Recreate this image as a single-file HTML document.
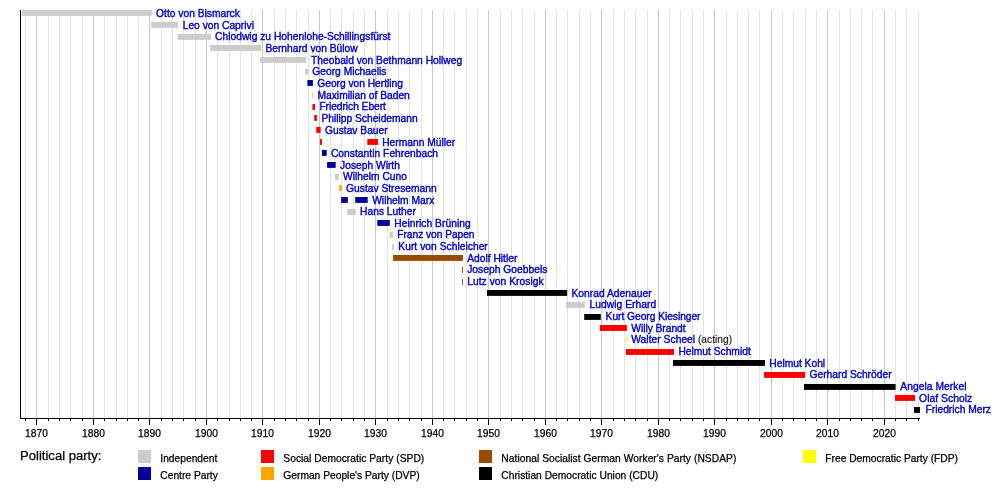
<!DOCTYPE html>
<html lang="en"><head><meta charset="utf-8"><title>Chancellors of Germany timeline</title>
<style>
html,body{margin:0;padding:0;background:#fff;}
body{width:1000px;height:488px;overflow:hidden;}
svg{display:block;}
text{font-family:"Liberation Sans",Arial,Helvetica,sans-serif;}
.l{font-size:10.25px;fill:#0000cc;stroke:#0000cc;stroke-width:0.38px;}
.k{font-size:10.25px;fill:#000;stroke:#000;stroke-width:0.25px;}
.t{font-size:13.05px;fill:#000;stroke:#000;stroke-width:0.25px;}
</style></head><body>
<svg width="1000" height="488" viewBox="0 0 1000 488">
<rect width="1000" height="488" fill="#fff"/>

<g shape-rendering="crispEdges">
<rect x="25" y="10" width="1" height="408" fill="#e3e3e3"/>
<rect x="36" y="10" width="1" height="408" fill="#c8c8c8"/>
<rect x="48" y="10" width="1" height="408" fill="#e3e3e3"/>
<rect x="59" y="10" width="1" height="408" fill="#e3e3e3"/>
<rect x="70" y="10" width="1" height="408" fill="#e3e3e3"/>
<rect x="82" y="10" width="1" height="408" fill="#e3e3e3"/>
<rect x="93" y="10" width="1" height="408" fill="#c8c8c8"/>
<rect x="104" y="10" width="1" height="408" fill="#e3e3e3"/>
<rect x="116" y="10" width="1" height="408" fill="#e3e3e3"/>
<rect x="127" y="10" width="1" height="408" fill="#e3e3e3"/>
<rect x="138" y="10" width="1" height="408" fill="#e3e3e3"/>
<rect x="149" y="10" width="1" height="408" fill="#c8c8c8"/>
<rect x="161" y="10" width="1" height="408" fill="#e3e3e3"/>
<rect x="172" y="10" width="1" height="408" fill="#e3e3e3"/>
<rect x="183" y="10" width="1" height="408" fill="#e3e3e3"/>
<rect x="195" y="10" width="1" height="408" fill="#e3e3e3"/>
<rect x="206" y="10" width="1" height="408" fill="#c8c8c8"/>
<rect x="217" y="10" width="1" height="408" fill="#e3e3e3"/>
<rect x="229" y="10" width="1" height="408" fill="#e3e3e3"/>
<rect x="240" y="10" width="1" height="408" fill="#e3e3e3"/>
<rect x="251" y="10" width="1" height="408" fill="#e3e3e3"/>
<rect x="262" y="10" width="1" height="408" fill="#c8c8c8"/>
<rect x="274" y="10" width="1" height="408" fill="#e3e3e3"/>
<rect x="285" y="10" width="1" height="408" fill="#e3e3e3"/>
<rect x="296" y="10" width="1" height="408" fill="#e3e3e3"/>
<rect x="308" y="10" width="1" height="408" fill="#e3e3e3"/>
<rect x="319" y="10" width="1" height="408" fill="#c8c8c8"/>
<rect x="330" y="10" width="1" height="408" fill="#e3e3e3"/>
<rect x="341" y="10" width="1" height="408" fill="#e3e3e3"/>
<rect x="353" y="10" width="1" height="408" fill="#e3e3e3"/>
<rect x="364" y="10" width="1" height="408" fill="#e3e3e3"/>
<rect x="375" y="10" width="1" height="408" fill="#c8c8c8"/>
<rect x="387" y="10" width="1" height="408" fill="#e3e3e3"/>
<rect x="398" y="10" width="1" height="408" fill="#e3e3e3"/>
<rect x="409" y="10" width="1" height="408" fill="#e3e3e3"/>
<rect x="421" y="10" width="1" height="408" fill="#e3e3e3"/>
<rect x="432" y="10" width="1" height="408" fill="#c8c8c8"/>
<rect x="443" y="10" width="1" height="408" fill="#e3e3e3"/>
<rect x="454" y="10" width="1" height="408" fill="#e3e3e3"/>
<rect x="466" y="10" width="1" height="408" fill="#e3e3e3"/>
<rect x="477" y="10" width="1" height="408" fill="#e3e3e3"/>
<rect x="488" y="10" width="1" height="408" fill="#c8c8c8"/>
<rect x="500" y="10" width="1" height="408" fill="#e3e3e3"/>
<rect x="511" y="10" width="1" height="408" fill="#e3e3e3"/>
<rect x="522" y="10" width="1" height="408" fill="#e3e3e3"/>
<rect x="534" y="10" width="1" height="408" fill="#e3e3e3"/>
<rect x="545" y="10" width="1" height="408" fill="#c8c8c8"/>
<rect x="556" y="10" width="1" height="408" fill="#e3e3e3"/>
<rect x="567" y="10" width="1" height="408" fill="#e3e3e3"/>
<rect x="579" y="10" width="1" height="408" fill="#e3e3e3"/>
<rect x="590" y="10" width="1" height="408" fill="#e3e3e3"/>
<rect x="601" y="10" width="1" height="408" fill="#c8c8c8"/>
<rect x="613" y="10" width="1" height="408" fill="#e3e3e3"/>
<rect x="624" y="10" width="1" height="408" fill="#e3e3e3"/>
<rect x="635" y="10" width="1" height="408" fill="#e3e3e3"/>
<rect x="647" y="10" width="1" height="408" fill="#e3e3e3"/>
<rect x="658" y="10" width="1" height="408" fill="#c8c8c8"/>
<rect x="669" y="10" width="1" height="408" fill="#e3e3e3"/>
<rect x="680" y="10" width="1" height="408" fill="#e3e3e3"/>
<rect x="692" y="10" width="1" height="408" fill="#e3e3e3"/>
<rect x="703" y="10" width="1" height="408" fill="#e3e3e3"/>
<rect x="714" y="10" width="1" height="408" fill="#c8c8c8"/>
<rect x="726" y="10" width="1" height="408" fill="#e3e3e3"/>
<rect x="737" y="10" width="1" height="408" fill="#e3e3e3"/>
<rect x="748" y="10" width="1" height="408" fill="#e3e3e3"/>
<rect x="759" y="10" width="1" height="408" fill="#e3e3e3"/>
<rect x="771" y="10" width="1" height="408" fill="#c8c8c8"/>
<rect x="782" y="10" width="1" height="408" fill="#e3e3e3"/>
<rect x="793" y="10" width="1" height="408" fill="#e3e3e3"/>
<rect x="805" y="10" width="1" height="408" fill="#e3e3e3"/>
<rect x="816" y="10" width="1" height="408" fill="#e3e3e3"/>
<rect x="827" y="10" width="1" height="408" fill="#c8c8c8"/>
<rect x="839" y="10" width="1" height="408" fill="#e3e3e3"/>
<rect x="850" y="10" width="1" height="408" fill="#e3e3e3"/>
<rect x="861" y="10" width="1" height="408" fill="#e3e3e3"/>
<rect x="872" y="10" width="1" height="408" fill="#e3e3e3"/>
<rect x="884" y="10" width="1" height="408" fill="#c8c8c8"/>
<rect x="895" y="10" width="1" height="408" fill="#e3e3e3"/>
<rect x="906" y="10" width="1" height="408" fill="#e3e3e3"/>
<rect x="918" y="10" width="1" height="408" fill="#e3e3e3"/>
</g>
<g>
<rect x="22.20" y="10.00" width="129.60" height="5.9" fill="#cccccc"/>
<rect x="151.20" y="22.00" width="26.50" height="5.9" fill="#cccccc"/>
<rect x="177.60" y="34.00" width="33.40" height="5.9" fill="#cccccc"/>
<rect x="210.20" y="45.00" width="50.80" height="5.9" fill="#cccccc"/>
<rect x="260.20" y="57.00" width="45.80" height="5.9" fill="#cccccc"/>
<rect x="305.20" y="69.00" width="3.00" height="5.9" fill="#cccccc"/>
<rect x="307.40" y="80.00" width="5.50" height="5.9" fill="#000099"/>
<rect x="312.20" y="92.00" width="1.00" height="5.9" fill="#cccccc"/>
<rect x="312.40" y="104.00" width="2.60" height="5.9" fill="#ff0000"/>
<rect x="314.20" y="115.00" width="2.70" height="5.9" fill="#ff0000"/>
<rect x="316.20" y="127.00" width="4.50" height="5.9" fill="#ff0000"/>
<rect x="320.00" y="139.00" width="1.90" height="5.9" fill="#ff0000"/>
<rect x="367.30" y="139.00" width="10.70" height="5.9" fill="#ff0000"/>
<rect x="322.00" y="150.00" width="4.70" height="5.9" fill="#000099"/>
<rect x="327.10" y="162.00" width="8.60" height="5.9" fill="#000099"/>
<rect x="334.90" y="174.00" width="3.90" height="5.9" fill="#cccccc"/>
<rect x="339.20" y="185.00" width="2.60" height="5.9" fill="#ffa500"/>
<rect x="341.20" y="197.00" width="6.60" height="5.9" fill="#000099"/>
<rect x="355.20" y="197.00" width="12.50" height="5.9" fill="#000099"/>
<rect x="347.20" y="209.00" width="8.60" height="5.9" fill="#cccccc"/>
<rect x="377.30" y="220.00" width="12.50" height="5.9" fill="#000099"/>
<rect x="389.40" y="232.00" width="3.40" height="5.9" fill="#cccccc"/>
<rect x="392.10" y="244.00" width="1.90" height="5.9" fill="#cccccc"/>
<rect x="393.10" y="255.00" width="69.80" height="5.9" fill="#994c00"/>
<rect x="462.00" y="267.00" width="0.90" height="5.9" fill="#994c00"/>
<rect x="462.00" y="279.00" width="0.90" height="5.9" fill="#994c00"/>
<rect x="487.00" y="290.00" width="80.10" height="5.9" fill="#000000"/>
<rect x="566.10" y="302.00" width="18.70" height="5.9" fill="#cccccc"/>
<rect x="584.20" y="314.00" width="16.60" height="5.9" fill="#000000"/>
<rect x="599.80" y="325.00" width="27.10" height="5.9" fill="#ff0000"/>
<rect x="626.00" y="337.00" width="1.00" height="5.9" fill="#ffff00"/>
<rect x="625.90" y="349.00" width="48.10" height="5.9" fill="#ff0000"/>
<rect x="673.00" y="360.00" width="92.00" height="5.9" fill="#000000"/>
<rect x="764.00" y="372.00" width="41.00" height="5.9" fill="#ff0000"/>
<rect x="804.00" y="384.00" width="91.60" height="5.9" fill="#000000"/>
<rect x="895.00" y="395.00" width="20.00" height="5.9" fill="#ff0000"/>
<rect x="914.00" y="407.00" width="6.00" height="5.9" fill="#000000"/>
</g>
<g shape-rendering="crispEdges" fill="#000">
<rect x="20" y="10" width="1" height="409"/>
<rect x="20" y="418" width="900" height="1"/>
</g>
<g fill="#000" shape-rendering="crispEdges">
<rect x="25" y="418" width="1" height="3"/>
<rect x="36" y="418" width="1" height="7"/>
<rect x="48" y="418" width="1" height="3"/>
<rect x="59" y="418" width="1" height="3"/>
<rect x="70" y="418" width="1" height="3"/>
<rect x="82" y="418" width="1" height="3"/>
<rect x="93" y="418" width="1" height="7"/>
<rect x="104" y="418" width="1" height="3"/>
<rect x="116" y="418" width="1" height="3"/>
<rect x="127" y="418" width="1" height="3"/>
<rect x="138" y="418" width="1" height="3"/>
<rect x="149" y="418" width="1" height="7"/>
<rect x="161" y="418" width="1" height="3"/>
<rect x="172" y="418" width="1" height="3"/>
<rect x="183" y="418" width="1" height="3"/>
<rect x="195" y="418" width="1" height="3"/>
<rect x="206" y="418" width="1" height="7"/>
<rect x="217" y="418" width="1" height="3"/>
<rect x="229" y="418" width="1" height="3"/>
<rect x="240" y="418" width="1" height="3"/>
<rect x="251" y="418" width="1" height="3"/>
<rect x="262" y="418" width="1" height="7"/>
<rect x="274" y="418" width="1" height="3"/>
<rect x="285" y="418" width="1" height="3"/>
<rect x="296" y="418" width="1" height="3"/>
<rect x="308" y="418" width="1" height="3"/>
<rect x="319" y="418" width="1" height="7"/>
<rect x="330" y="418" width="1" height="3"/>
<rect x="341" y="418" width="1" height="3"/>
<rect x="353" y="418" width="1" height="3"/>
<rect x="364" y="418" width="1" height="3"/>
<rect x="375" y="418" width="1" height="7"/>
<rect x="387" y="418" width="1" height="3"/>
<rect x="398" y="418" width="1" height="3"/>
<rect x="409" y="418" width="1" height="3"/>
<rect x="421" y="418" width="1" height="3"/>
<rect x="432" y="418" width="1" height="7"/>
<rect x="443" y="418" width="1" height="3"/>
<rect x="454" y="418" width="1" height="3"/>
<rect x="466" y="418" width="1" height="3"/>
<rect x="477" y="418" width="1" height="3"/>
<rect x="488" y="418" width="1" height="7"/>
<rect x="500" y="418" width="1" height="3"/>
<rect x="511" y="418" width="1" height="3"/>
<rect x="522" y="418" width="1" height="3"/>
<rect x="534" y="418" width="1" height="3"/>
<rect x="545" y="418" width="1" height="7"/>
<rect x="556" y="418" width="1" height="3"/>
<rect x="567" y="418" width="1" height="3"/>
<rect x="579" y="418" width="1" height="3"/>
<rect x="590" y="418" width="1" height="3"/>
<rect x="601" y="418" width="1" height="7"/>
<rect x="613" y="418" width="1" height="3"/>
<rect x="624" y="418" width="1" height="3"/>
<rect x="635" y="418" width="1" height="3"/>
<rect x="647" y="418" width="1" height="3"/>
<rect x="658" y="418" width="1" height="7"/>
<rect x="669" y="418" width="1" height="3"/>
<rect x="680" y="418" width="1" height="3"/>
<rect x="692" y="418" width="1" height="3"/>
<rect x="703" y="418" width="1" height="3"/>
<rect x="714" y="418" width="1" height="7"/>
<rect x="726" y="418" width="1" height="3"/>
<rect x="737" y="418" width="1" height="3"/>
<rect x="748" y="418" width="1" height="3"/>
<rect x="759" y="418" width="1" height="3"/>
<rect x="771" y="418" width="1" height="7"/>
<rect x="782" y="418" width="1" height="3"/>
<rect x="793" y="418" width="1" height="3"/>
<rect x="805" y="418" width="1" height="3"/>
<rect x="816" y="418" width="1" height="3"/>
<rect x="827" y="418" width="1" height="7"/>
<rect x="839" y="418" width="1" height="3"/>
<rect x="850" y="418" width="1" height="3"/>
<rect x="861" y="418" width="1" height="3"/>
<rect x="872" y="418" width="1" height="3"/>
<rect x="884" y="418" width="1" height="7"/>
<rect x="895" y="418" width="1" height="3"/>
<rect x="906" y="418" width="1" height="3"/>
<rect x="918" y="418" width="1" height="3"/>
</g>
<text class="k" x="36.5" y="436.8" text-anchor="middle">1870</text>
<text class="k" x="93.5" y="436.8" text-anchor="middle">1880</text>
<text class="k" x="149.5" y="436.8" text-anchor="middle">1890</text>
<text class="k" x="206.5" y="436.8" text-anchor="middle">1900</text>
<text class="k" x="262.5" y="436.8" text-anchor="middle">1910</text>
<text class="k" x="319.5" y="436.8" text-anchor="middle">1920</text>
<text class="k" x="375.5" y="436.8" text-anchor="middle">1930</text>
<text class="k" x="432.5" y="436.8" text-anchor="middle">1940</text>
<text class="k" x="488.5" y="436.8" text-anchor="middle">1950</text>
<text class="k" x="545.5" y="436.8" text-anchor="middle">1960</text>
<text class="k" x="601.5" y="436.8" text-anchor="middle">1970</text>
<text class="k" x="658.5" y="436.8" text-anchor="middle">1980</text>
<text class="k" x="714.5" y="436.8" text-anchor="middle">1990</text>
<text class="k" x="771.5" y="436.8" text-anchor="middle">2000</text>
<text class="k" x="827.5" y="436.8" text-anchor="middle">2010</text>
<text class="k" x="884.5" y="436.8" text-anchor="middle">2020</text>
<text class="l" x="156.1" y="17.0">Otto von Bismarck</text>
<text class="l" x="182.7" y="29.1">Leo von Caprivi</text>
<text class="l" x="215.1" y="40.1" textLength="175.32" lengthAdjust="spacing">Chlodwig zu Hohenlohe-Schillingsfürst</text>
<text class="l" x="265.4" y="51.7">Bernhard von Bülow</text>
<text class="l" x="311.1" y="64.4">Theobald von Bethmann Hollweg</text>
<text class="l" x="312.3" y="75.4">Georg Michaelis</text>
<text class="l" x="317.3" y="86.7" textLength="85.53" lengthAdjust="spacing">Georg von Hertling</text>
<text class="l" x="317.5" y="99.3">Maximilian of Baden</text>
<text class="l" x="319.4" y="110.4" textLength="66.52" lengthAdjust="spacing">Friedrich Ebert</text>
<text class="l" x="321.4" y="121.6">Philipp Scheidemann</text>
<text class="l" x="325.0" y="133.9">Gustav Bauer</text>
<text class="l" x="382.2" y="145.6">Hermann Müller</text>
<text class="l" x="330.9" y="156.8" textLength="107.16" lengthAdjust="spacing">Constantin Fehrenbach</text>
<text class="l" x="340.1" y="168.9">Joseph Wirth</text>
<text class="l" x="343.1" y="179.9">Wilhelm Cuno</text>
<text class="l" x="346.1" y="191.7">Gustav Stresemann</text>
<text class="l" x="372.2" y="203.9">Wilhelm Marx</text>
<text class="l" x="360.1" y="215.2">Hans Luther</text>
<text class="l" x="394.3" y="226.5" textLength="76.38" lengthAdjust="spacing">Heinrich Brüning</text>
<text class="l" x="397.3" y="238.2" textLength="77.26" lengthAdjust="spacing">Franz von Papen</text>
<text class="l" x="398.3" y="250.2" textLength="89.49" lengthAdjust="spacing">Kurt von Schleicher</text>
<text class="l" x="467.2" y="261.5">Adolf Hitler</text>
<text class="l" x="467.2" y="273.4" textLength="80.18" lengthAdjust="spacing">Joseph Goebbels</text>
<text class="l" x="467.2" y="285.1" textLength="76.48" lengthAdjust="spacing">Lutz von Krosigk</text>
<text class="l" x="571.4" y="296.5" textLength="80.20" lengthAdjust="spacing">Konrad Adenauer</text>
<text class="l" x="589.5" y="308.1" textLength="66.71" lengthAdjust="spacing">Ludwig Erhard</text>
<text class="l" x="605.6" y="319.8" textLength="94.92" lengthAdjust="spacing">Kurt Georg Kiesinger</text>
<text class="l" x="631.3" y="332.0" textLength="54.29" lengthAdjust="spacing">Willy Brandt</text>
<text class="l" x="631.3" y="343.1" textLength="63.82" lengthAdjust="spacing">Walter Scheel</text>
<text class="l" x="697.9" y="343.1" style="fill:#1a1a1a;stroke:#1a1a1a;stroke-width:0.15px">(acting)</text>
<text class="l" x="678.4" y="355.0">Helmut Schmidt</text>
<text class="l" x="769.3" y="367.1">Helmut Kohl</text>
<text class="l" x="809.5" y="378.3">Gerhard Schröder</text>
<text class="l" x="900.3" y="390.0" textLength="66.13" lengthAdjust="spacing">Angela Merkel</text>
<text class="l" x="919.1" y="402.1" textLength="53.12" lengthAdjust="spacing">Olaf Scholz</text>
<text class="l" x="925.5" y="413.0">Friedrich Merz</text>
<text class="t" x="20.1" y="459.7">Political party:</text>
<rect x="138" y="450" width="13" height="13" fill="#cccccc" shape-rendering="crispEdges"/>
<text class="k" x="160.3" y="461.8">Independent</text>
<rect x="138" y="467" width="13" height="13" fill="#000099" shape-rendering="crispEdges"/>
<text class="k" x="160.3" y="478.8">Centre Party</text>
<rect x="261" y="450" width="13" height="13" fill="#ff0000" shape-rendering="crispEdges"/>
<text class="k" x="283.3" y="461.8" textLength="140.93" lengthAdjust="spacing">Social Democratic Party (SPD)</text>
<rect x="261" y="467" width="13" height="13" fill="#ffa500" shape-rendering="crispEdges"/>
<text class="k" x="283.3" y="478.8">German People's Party (DVP)</text>
<rect x="479" y="450" width="13" height="13" fill="#994c00" shape-rendering="crispEdges"/>
<text class="k" x="501.3" y="461.8" textLength="235.03" lengthAdjust="spacing">National Socialist German Worker's Party (NSDAP)</text>
<rect x="479" y="467" width="13" height="13" fill="#000000" shape-rendering="crispEdges"/>
<text class="k" x="501.3" y="478.8" textLength="156.94" lengthAdjust="spacing">Christian Democratic Union (CDU)</text>
<rect x="803" y="450" width="13" height="13" fill="#ffff00" shape-rendering="crispEdges"/>
<text class="k" x="825.3" y="461.8">Free Democratic Party (FDP)</text>
</svg></body></html>
